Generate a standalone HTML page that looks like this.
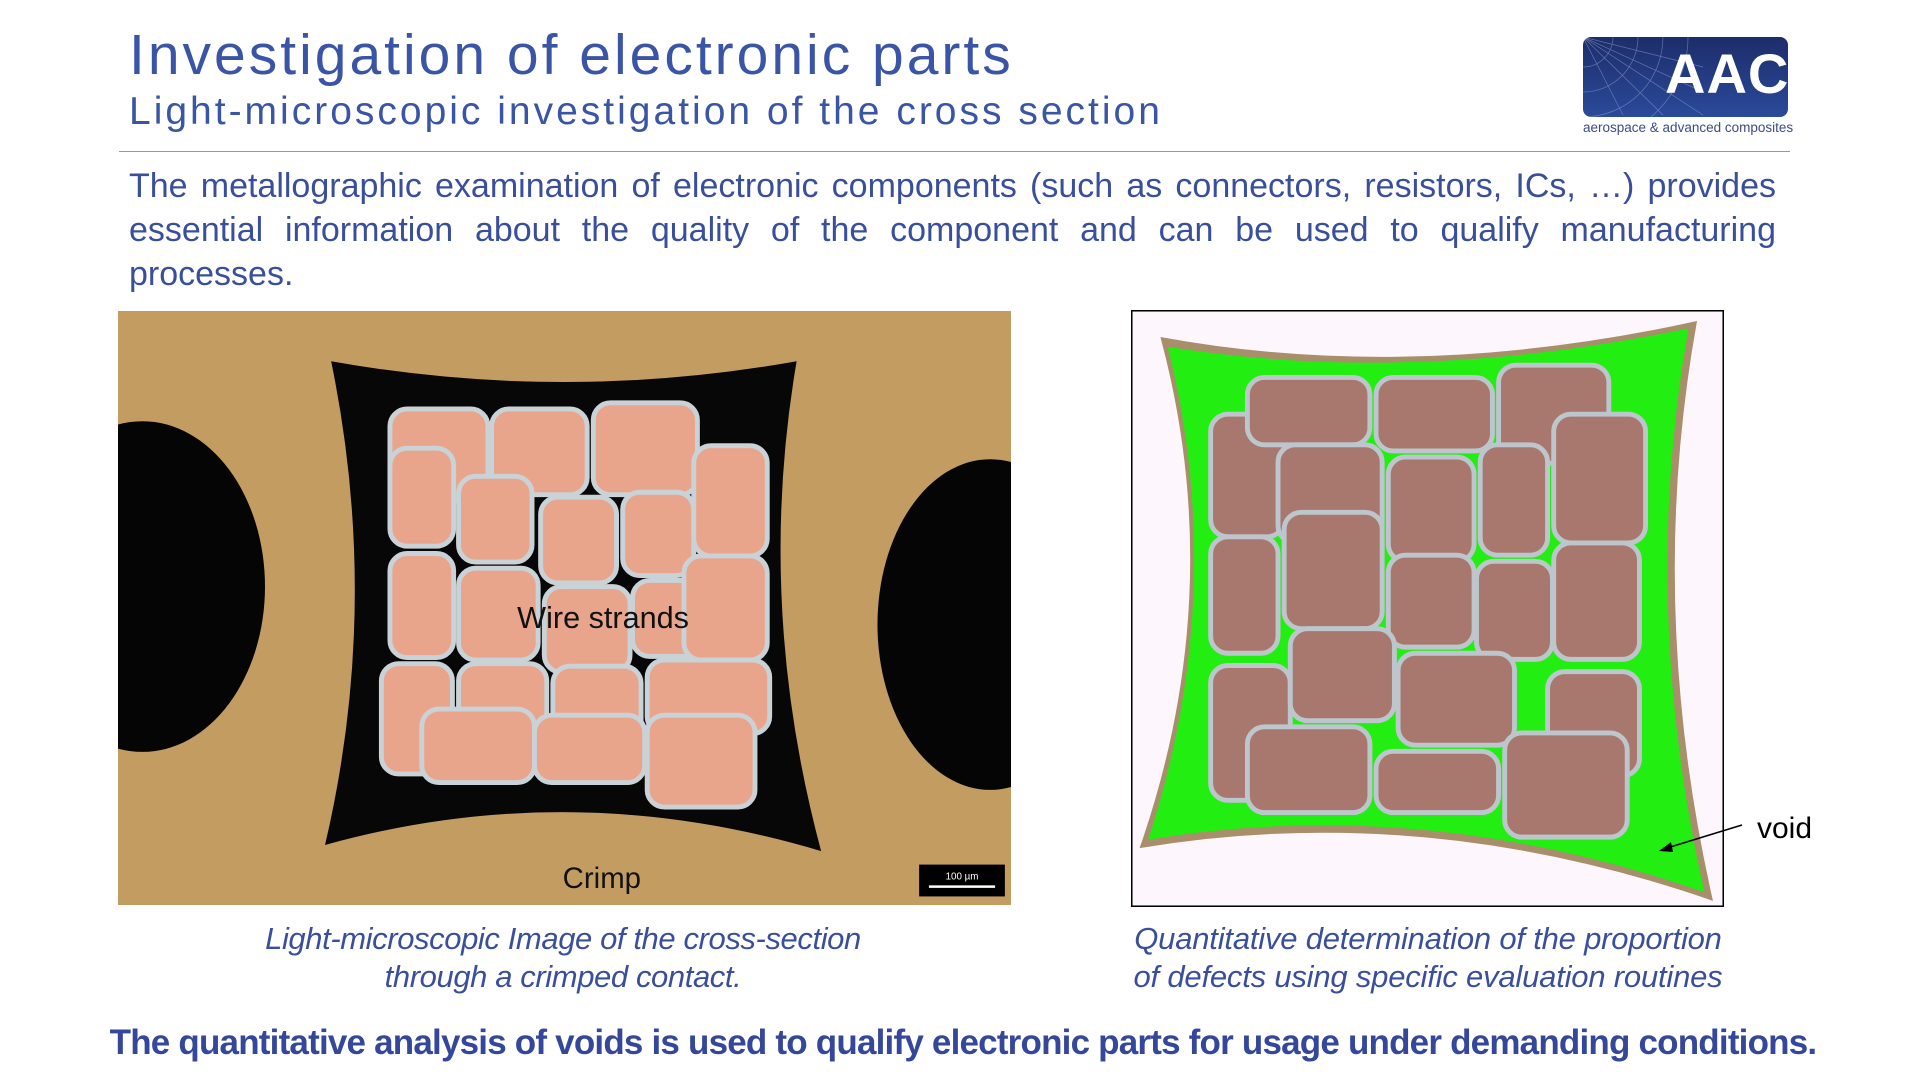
<!DOCTYPE html>
<html><head><meta charset="utf-8"><style>
body{margin:0;width:1920px;height:1080px;background:#fff;position:relative;overflow:hidden;font-family:"Liberation Sans",sans-serif;color:#3a4f9c}
.a{position:absolute;white-space:nowrap}
.j{text-align:justify;text-align-last:justify;white-space:nowrap;height:44px}
</style></head><body>
<div class="a" style="left:129px;top:22px;font-size:57px;color:#3b55a6;letter-spacing:3px">Investigation of electronic parts</div>
<div class="a" style="left:129px;top:90px;font-size:39px;color:#3b55a6;letter-spacing:3px">Light-microscopic investigation of the cross section</div>
<div class="a" style="left:1583px;top:37px;width:205px;height:80px;border-radius:8px;background:linear-gradient(180deg,#1d2d6a,#2a4a9a);overflow:hidden">
<svg width="205" height="80" style="position:absolute;left:0;top:0"><g stroke="#8fa0d0" stroke-width="0.7" fill="none" opacity="0.6"><circle cx="0" cy="0" r="30"/><circle cx="0" cy="0" r="55"/><circle cx="0" cy="0" r="80"/><circle cx="0" cy="0" r="105"/><line x1="0" y1="0" x2="120" y2="78"/><line x1="0" y1="0" x2="80" y2="78"/><line x1="0" y1="0" x2="40" y2="78"/><line x1="0" y1="0" x2="120" y2="30"/><line x1="0" y1="0" x2="120" y2="55"/></g></svg>
<div class="a" style="left:82px;top:4px;font-size:56px;font-weight:bold;color:#fff;letter-spacing:1px">AAC</div></div>
<div class="a" style="left:1583px;top:120px;font-size:13.5px;color:#3b4a8a">aerospace &amp; advanced composites</div>
<div class="a" style="left:119px;top:151px;width:1671px;height:1px;background:#999"></div>
<div class="a" style="left:129px;top:164px;width:1647px;font-size:34px;line-height:44px;letter-spacing:0px;color:#3a4f9c;white-space:normal">
<div class="j">The metallographic examination of electronic components (such as connectors, resistors, ICs, …) provides</div>
<div class="j">essential information about the quality of the component and can be used to qualify manufacturing</div>
<div>processes.</div></div>

<svg class="a" style="left:118px;top:311px" width="893" height="594" viewBox="0 0 729 485" preserveAspectRatio="none">
<rect width="729" height="485" fill="#c39c62"/>
<ellipse cx="20" cy="225" rx="100" ry="135" fill="#050505"/>
<ellipse cx="712" cy="256" rx="92" ry="135" fill="#050505"/>
<path d="M174 41 Q364 75 554 41 Q520 240 574 441 Q370 380 169 436 Q215 240 174 41Z" fill="#070707"/>
<g fill="#e9a58c" stroke="#c9d2d6" stroke-width="4">
<rect x="222" y="80" width="80" height="75" rx="14"/><rect x="305" y="80" width="78" height="70" rx="14"/><rect x="388" y="75" width="85" height="75" rx="14"/>
<rect x="222" y="112" width="52" height="80" rx="14"/><rect x="278" y="135" width="60" height="70" rx="14"/><rect x="345" y="152" width="62" height="70" rx="14"/><rect x="412" y="148" width="58" height="68" rx="14"/><rect x="470" y="110" width="60" height="90" rx="14"/>
<rect x="222" y="198" width="52" height="85" rx="14"/><rect x="278" y="210" width="65" height="75" rx="14"/><rect x="348" y="225" width="70" height="70" rx="14"/><rect x="420" y="220" width="56" height="62" rx="14"/><rect x="462" y="200" width="68" height="85" rx="14"/>
<rect x="215" y="288" width="58" height="90" rx="14"/><rect x="278" y="288" width="72" height="68" rx="14"/><rect x="355" y="290" width="72" height="70" rx="14"/><rect x="432" y="285" width="100" height="60" rx="14"/>
<rect x="248" y="325" width="92" height="60" rx="14"/><rect x="340" y="330" width="90" height="55" rx="14"/><rect x="432" y="330" width="88" height="75" rx="14"/>
</g>
<text x="396" y="259" font-size="25" text-anchor="middle" fill="#111" font-family="Liberation Sans">Wire strands</text>
<text x="395" y="471" font-size="24" text-anchor="middle" fill="#111" font-family="Liberation Sans">Crimp</text>
<rect x="654" y="452" width="70" height="26" fill="#000"/>
<text x="689" y="464" font-size="8" fill="#fff" text-anchor="middle" font-family="Liberation Sans">100 µm</text>
<line x1="662" y1="470" x2="716" y2="470" stroke="#fff" stroke-width="2"/>
</svg>

<svg class="a" style="left:1131px;top:310px" width="593" height="597" viewBox="0 0 484 487" preserveAspectRatio="none">
<rect x="0.5" y="0.5" width="483" height="486" fill="#fdf7fd" stroke="#000" stroke-width="1.5"/>
<path d="M24 22 Q230 60 462 9 Q420 240 475 482 Q240 400 7 439 Q80 230 24 22Z" fill="#a88e6a"/>
<path d="M30 30 Q230 62 455 15 Q415 240 468 475 Q240 395 14 432 Q80 230 30 30Z" fill="#22ee11"/>
<g fill="#a8786e" stroke="#bcc6cc" stroke-width="4">
<rect x="65" y="85" width="60" height="100" rx="14"/><rect x="95" y="55" width="100" height="55" rx="14"/><rect x="200" y="55" width="95" height="60" rx="14"/><rect x="300" y="45" width="90" height="80" rx="14"/>
<rect x="120" y="110" width="85" height="80" rx="14"/><rect x="210" y="120" width="70" height="85" rx="14"/><rect x="285" y="110" width="55" height="90" rx="14"/><rect x="345" y="85" width="75" height="105" rx="14"/>
<rect x="65" y="185" width="55" height="95" rx="14"/><rect x="125" y="165" width="80" height="95" rx="14"/><rect x="210" y="200" width="70" height="75" rx="14"/><rect x="282" y="205" width="62" height="80" rx="14"/><rect x="345" y="190" width="70" height="95" rx="14"/>
<rect x="65" y="290" width="65" height="110" rx="14"/><rect x="130" y="260" width="85" height="75" rx="14"/><rect x="218" y="280" width="95" height="75" rx="14"/><rect x="340" y="295" width="75" height="85" rx="14"/>
<rect x="95" y="340" width="100" height="70" rx="14"/><rect x="200" y="360" width="100" height="50" rx="14"/><rect x="305" y="345" width="100" height="85" rx="14"/>
</g>
</svg>
<svg class="a" style="left:1655px;top:820px" width="100" height="50"><line x1="87" y1="5" x2="12" y2="28" stroke="#000" stroke-width="1.5"/><polygon points="4,31 16,22 18,32" fill="#000"/></svg>
<div class="a" style="left:1757px;top:812px;font-size:30px;color:#000">void</div>

<div class="a" style="left:213px;top:920px;width:700px;text-align:center;font-size:31px;font-style:italic;letter-spacing:-0.4px;line-height:38px;color:#3a4f9c">Light-microscopic Image of the cross-section<br>through a crimped contact.</div>
<div class="a" style="left:1078px;top:920px;width:700px;text-align:center;font-size:31px;font-style:italic;letter-spacing:-0.2px;line-height:38px;color:#3a4f9c">Quantitative determination of the proportion<br>of defects using specific evaluation routines</div>
<div class="a" style="left:60px;top:1023px;width:1806px;text-align:center;font-size:35px;font-weight:bold;letter-spacing:-0.8px;color:#34479a">The quantitative analysis of voids is used to qualify electronic parts for usage under demanding conditions.</div>
</body></html>
